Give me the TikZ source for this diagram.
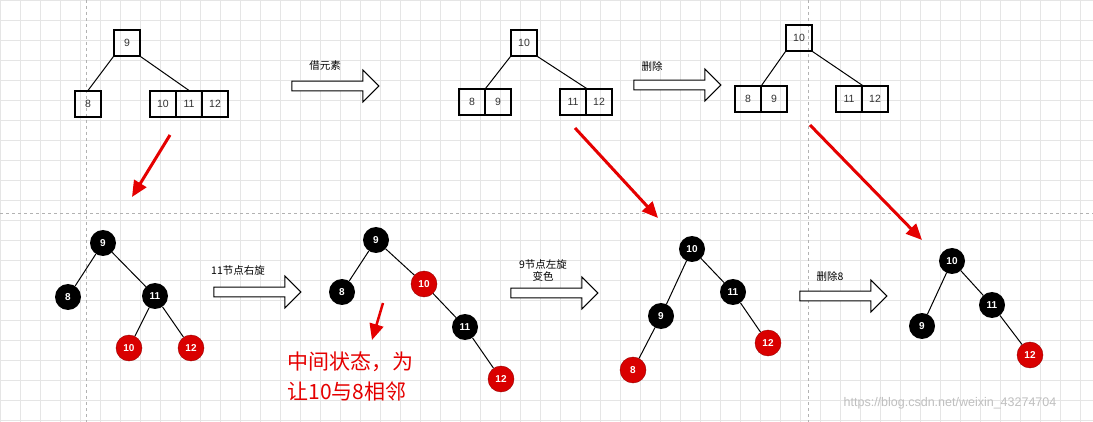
\documentclass[tikz,border=0pt]{standalone}
\usepackage{fontspec}
\setmainfont{Liberation Sans}
\newfontfamily\cjk{Noto Sans CJK SC}
\usetikzlibrary{shapes.arrows,arrows.meta}
\begin{document}
\begin{tikzpicture}[x=1pt,y=-1pt,
 bx/.style={draw,line width=1.1pt,minimum size=26pt,inner sep=0pt,font=\fontsize{10.5}{10}\selectfont,text=black!80},
 rb/.style={circle,fill=black,minimum size=26pt,inner sep=0pt,text=white,font=\bfseries\fontsize{10}{10}\selectfont},
 rr/.style={circle,fill=red!85!black,draw=red!60!black,minimum size=26pt,inner sep=0pt,text=white,font=\bfseries\fontsize{10}{10}\selectfont},
 ed/.style={line width=1pt},
 bar/.style={single arrow,draw,line width=1pt,fill=white,minimum height=87pt,minimum width=32pt,single arrow head extend=8pt,single arrow head indent=0pt,inner sep=3pt},
 lab/.style={font=\cjk\fontsize{10.5}{12}\selectfont,align=center},
 ra/.style={red!90!black,line width=3pt,-{Triangle[length=16pt,width=14pt]}}]
\useasboundingbox (0,0) rectangle (1093,422);
\fill[white] (0,0) rectangle (1093,422);
\foreach \i in {0,20,...,1090} \draw[black!10,line width=0.5pt] (\i,0) -- (\i,422);
\foreach \i in {0,20,...,420} \draw[black!10,line width=0.5pt] (0,\i) -- (1093,\i);
\draw[black!30,dashed] (86,0) -- (86,422);
\draw[black!30,dashed] (808,0) -- (808,422);
\draw[black!30,dashed] (0,213) -- (1093,213);
% top tree 1
\node[bx] (a9) at (127,43) {9};
\node[bx] (a8) at (88,104) {8};
\node[bx] (a10) at (163,104) {10};
\node[bx] (a11) at (189,104) {11};
\node[bx] (a12) at (215,104) {12};
\draw[ed] (a9.south west) -- (a8.north);
\draw[ed] (a9.south east) -- (a11.north);
\node[bar] (ar1) at (333,86) {};
\node[lab] (l1) at (325,66) {借元素};
% top tree 2
\node[bx] (b10) at (524,43) {10};
\node[bx] (b8) at (472,102) {8};
\node[bx] (b9) at (498,102) {9};
\node[bx] (b11) at (573,102) {11};
\node[bx] (b12) at (599,102) {12};
\draw[ed] (b10.south west) -- (b8.north east);
\draw[ed] (b10.south east) -- (b11.north east);
\node[bar] (ar2) at (675,85) {};
\node[lab] (l2) at (652,66) {删除};
% top tree 3
\node[bx] (c10) at (799,38) {10};
\node[bx] (c8) at (748,99) {8};
\node[bx] (c9) at (774,99) {9};
\node[bx] (c11) at (849,99) {11};
\node[bx] (c12) at (875,99) {12};
\draw[ed] (c10.south west) -- (c8.north east);
\draw[ed] (c10.south east) -- (c11.north east);
% red arrows
\coordinate (r1s) at (170,135); \coordinate (r1e) at (132,197);
\coordinate (r2s) at (575,128); \coordinate (r2e) at (658,218);
\coordinate (r3s) at (810,125); \coordinate (r3e) at (922,240);
\coordinate (r4s) at (383,303); \coordinate (r4e) at (372,340);
\draw[ra] (r1s) -- (r1e);
\draw[ra] (r2s) -- (r2e);
\draw[ra] (r3s) -- (r3e);
\draw[ra,line width=2.5pt] (r4s) -- (r4e);
% bottom tree 1
\node[rb] (d9) at (103,243) {9};
\node[rb] (d8) at (68,297) {8};
\node[rb] (d11) at (155,296) {11};
\node[rr] (d10) at (129,348) {10};
\node[rr] (d12) at (191,348) {12};
\draw[ed] (d9) -- (d8); \draw[ed] (d9) -- (d11);
\draw[ed] (d11) -- (d10); \draw[ed] (d11) -- (d12);
\node[bar] (ar3) at (255,292) {};
\node[lab] (l3) at (238,271) {11节点右旋};
% bottom tree 2
\node[rb] (e9) at (376,240) {9};
\node[rb] (e8) at (342,292) {8};
\node[rr] (e10) at (424,284) {10};
\node[rb] (e11) at (465,327) {11};
\node[rr] (e12) at (501,379) {12};
\draw[ed] (e9) -- (e8); \draw[ed] (e9) -- (e10);
\draw[ed] (e10) -- (e11); \draw[ed] (e11) -- (e12);
\node[font=\cjk\fontsize{21}{30}\selectfont,text=red!90!black,align=left,anchor=west] (note) at (284,376) {中间状态，为\\让10与8相邻};
\node[bar] (ar4) at (552,293) {};
\node[lab] (l4) at (543,271) {9节点左旋\\变色};
% bottom tree 3
\node[rb] (f10) at (692,249) {10};
\node[rb] (f9) at (661,316) {9};
\node[rb] (f11) at (733,292) {11};
\node[rr] (f8) at (633,370) {8};
\node[rr] (f12) at (768,343) {12};
\draw[ed] (f10) -- (f9); \draw[ed] (f10) -- (f11);
\draw[ed] (f9) -- (f8); \draw[ed] (f11) -- (f12);
\node[bar] (ar5) at (841,296) {};
\node[lab] (l5) at (830,276) {删除8};
% bottom tree 4
\node[rb] (g10) at (952,261) {10};
\node[rb] (g9) at (922,326) {9};
\node[rb] (g11) at (992,305) {11};
\node[rr] (g12) at (1030,355) {12};
\draw[ed] (g10) -- (g9); \draw[ed] (g10) -- (g11); \draw[ed] (g11) -- (g12);
\node[font=\fontsize{12.5}{12}\selectfont,text=black!25] (wm) at (950,403) {https://blog.csdn.net/weixin\_43274704};
\end{tikzpicture}
\end{document}
